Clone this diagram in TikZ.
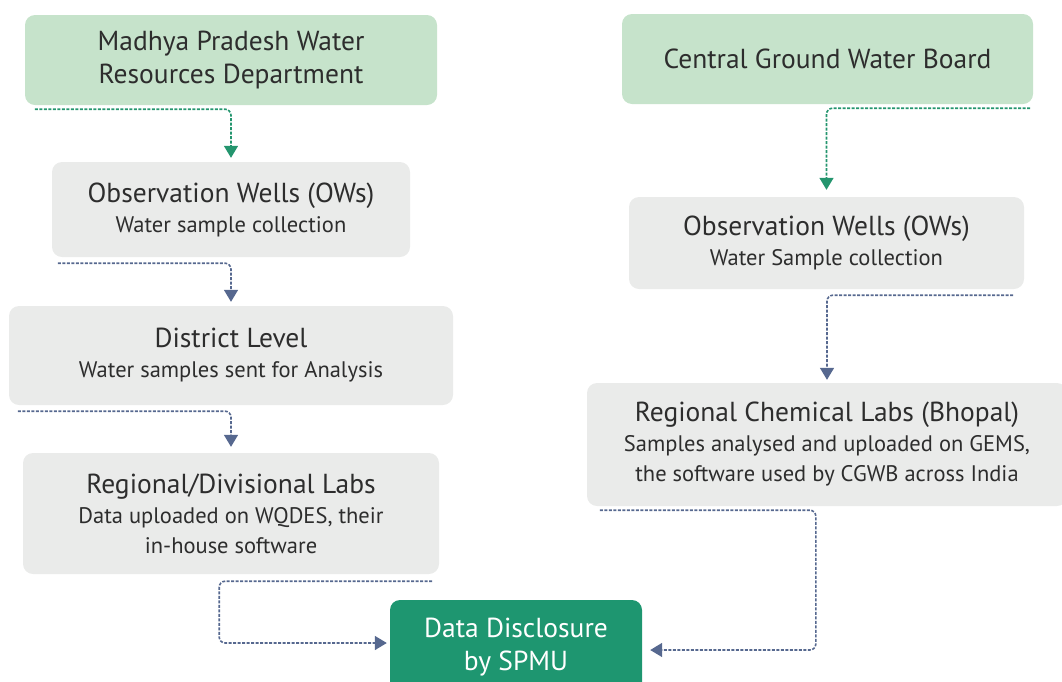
\documentclass[tikz,border=0pt]{standalone}
\usepackage{fontspec}
\setmainfont{PT Sans}
\usepackage{tikz}
\usetikzlibrary{arrows.meta, positioning}
\definecolor{wqlgreen}{RGB}{198,227,203}
\definecolor{wqgrey}{RGB}{234,235,234}
\definecolor{wqdgreen}{RGB}{30,150,112}
\definecolor{wqarrgreen}{RGB}{36,149,110}
\definecolor{wqslate}{RGB}{86,104,143}
\definecolor{wqtext}{RGB}{45,45,45}
\newcommand{\ttl}{\fontsize{27.5}{33}\selectfont}

\begin{document}
\begin{tikzpicture}[
  x=1pt, y=-1pt,
  box/.style={rounded corners=10pt, inner sep=0pt, align=center, text=wqtext,
              font=\fontsize{22.5}{30}\selectfont},
  src/.style={box, fill=wqlgreen, font=\fontsize{27.5}{33}\selectfont},
  mid/.style={box, fill=wqgrey},
  dest/.style={box, fill=wqdgreen, text=white, font=\fontsize{27.5}{33}\selectfont},
  link/.style={line width=1.6pt, dash pattern=on 3pt off 1.5pt, rounded corners=6pt,
               -{Triangle[length=12pt,width=14pt]}},
  garr/.style={link, wqarrgreen},
  barr/.style={link, wqslate}
]
  \useasboundingbox (0,0) rectangle (1062,681);
  \clip (0,0) rectangle (1062,681);
  \node[src, minimum width=412pt, minimum height=90pt] (mpwrd) at (231,60)
       {Madhya Pradesh Water\\Resources Department};
  \node[mid, minimum width=358pt, minimum height=95pt] (owl) at (231,209.5)
       {\ttl Observation Wells (OWs)\\Water sample collection};
  \node[mid, minimum width=444pt, minimum height=99pt] (dist) at (231,355.5)
       {\ttl District Level\\Water samples sent for Analysis};
  \node[mid, minimum width=416pt, minimum height=121pt] (rdl) at (231,513.5)
       {\ttl Regional/Divisional Labs\\Data uploaded on WQDES, their\\in-house software};
  \node[src, minimum width=411pt, minimum height=90pt] (cgwb) at (827.5,59)
       {Central Ground Water Board};
  \node[mid, minimum width=395pt, minimum height=92pt] (owr) at (826.5,243)
       {\ttl Observation Wells (OWs)\\Water Sample collection};
  \node[mid, minimum width=480pt, minimum height=123pt] (rcl) at (827,444.5)
       {\ttl Regional Chemical Labs (Bhopal)\\Samples analysed and uploaded on GEMS,\\the software used by CGWB across India};
  \node[dest, minimum width=252pt, minimum height=94pt] (dd) at (516,647)
       {Data Disclosure\\by SPMU};
  \draw[garr, shorten >=4pt] ([shift={(10,4)}]mpwrd.south west) -| (owl.north);
  \draw[barr, shorten >=4pt] ([shift={(6,6)}]owl.south west) -| (dist.north);
  \draw[barr, shorten >=6pt] ([shift={(9,6)}]dist.south west) -| (rdl.north);
  \draw[garr, shorten >=7pt] ([shift={(-3,4)}]cgwb.south east) -| (owr.north);
  \draw[barr, shorten >=3pt] ([shift={(-11,6)}]owr.south east) -| (rcl.north);
  \draw[barr, shorten >=3pt] ([shift={(-7,7)}]rdl.south east) -- ++(-213,0)
       |- ([yshift=4pt]dd.west);
  \draw[barr, shorten >=8pt] ([shift={(13,4)}]rcl.south west) -- ++(216,0)
       |- ([yshift=-3pt]dd.east);
\end{tikzpicture}
\end{document}
